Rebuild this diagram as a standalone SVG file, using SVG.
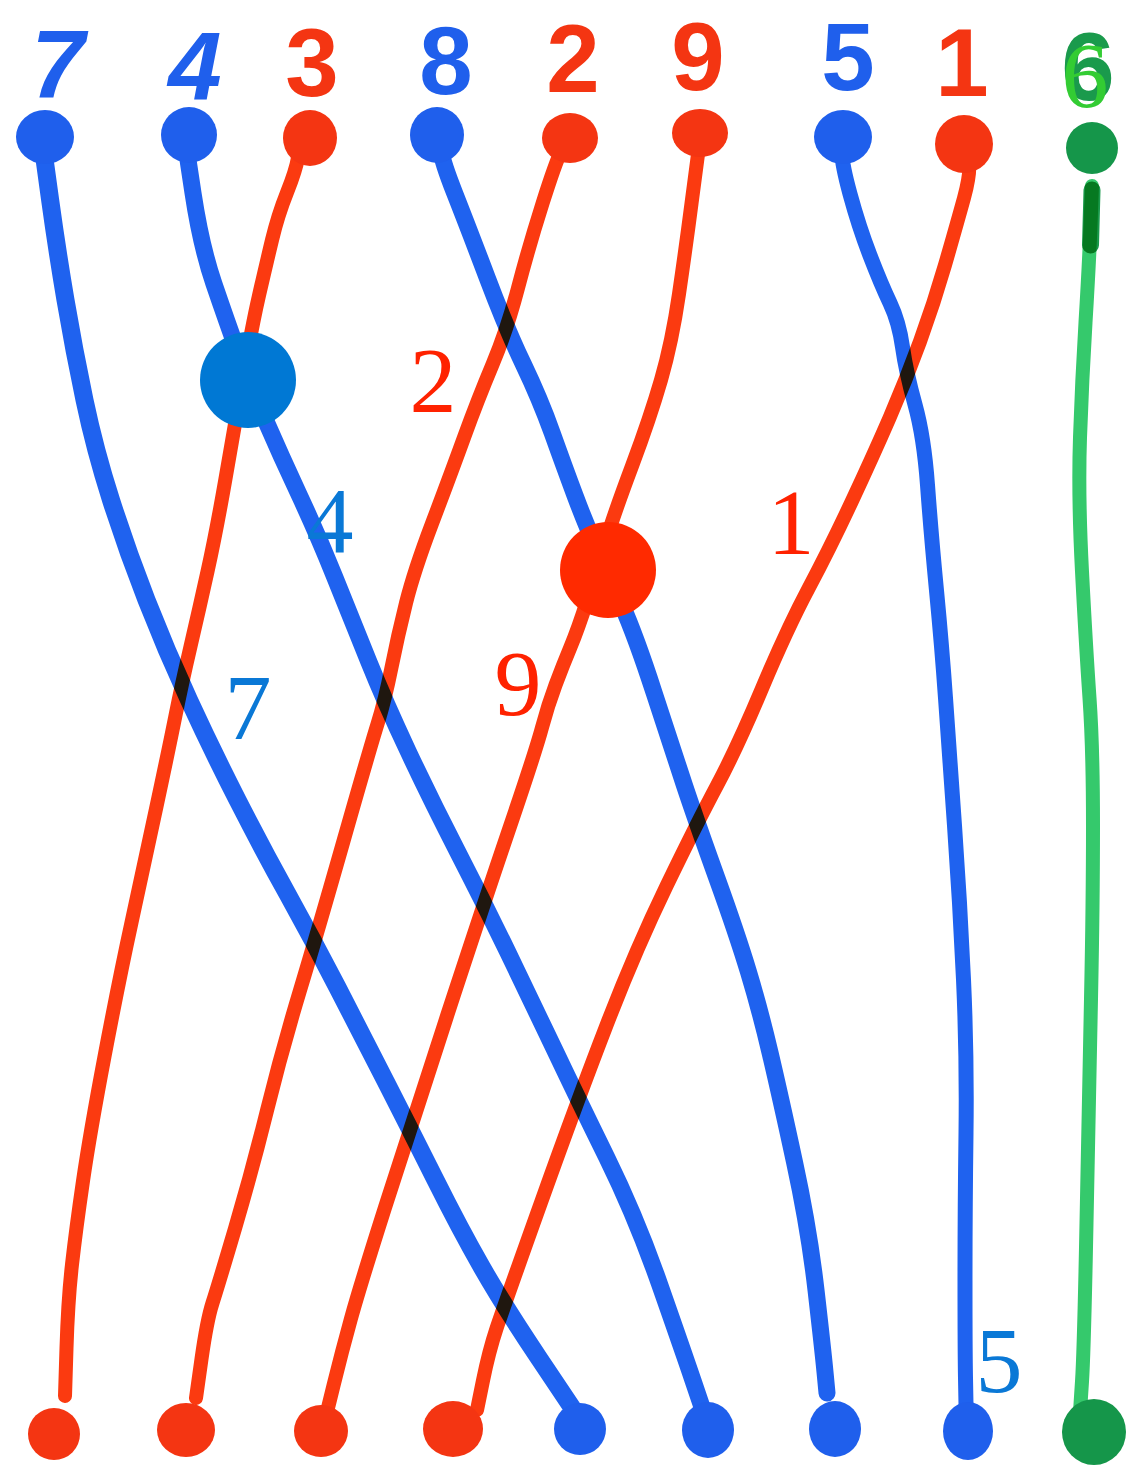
<svg xmlns="http://www.w3.org/2000/svg" width="1128" height="1470" viewBox="0 0 1128 1470">
<style>
.ln{fill:none;stroke-linecap:round;stroke-linejoin:round;mix-blend-mode:multiply}
.b{stroke:#1f62ef}
.r{stroke:#fb3a10}
.g{stroke:#35c96c}
.db{fill:#1f5fec}
.dr{fill:#f43512}
.dg{fill:#15964a}
.hd{font-family:"Liberation Sans","DejaVu Sans",sans-serif;font-weight:bold;font-size:96px;text-anchor:middle}
.lb{font-family:"Liberation Serif","DejaVu Serif",serif;font-size:94px;text-anchor:middle}
.tb{fill:#0a78d6}
.tr{fill:#ff2200}
</style>
<rect width="1128" height="1470" fill="#ffffff"/>
<g id="connectors">
<path class="ln b" stroke-width="18" d="M43,148 L50,199 Q57,250 65.5,300 Q74,350 84.5,400 Q95,450 111,500 Q127,550 146.5,600 Q166,650 189,700 Q212,750 237,799 Q262,848 287.5,894 Q313,940 337.5,987.5 Q362,1035 386,1082 Q410,1129 435,1179 Q460,1229 482,1267.5 Q504,1306 539.5,1359 L575,1412"/>
<path class="ln b" stroke-width="17" d="M185,140 L193,193 Q201,246 214,284 Q227,322 237.5,351 Q248,380 264.5,418 Q281,456 299,494.5 Q317,533 334.5,576.5 Q352,620 368.5,661 Q385,702 408,751 Q431,800 457.5,851.5 Q484,903 507.5,951.5 Q531,1000 554.5,1049.5 Q578,1099 607,1158 Q636,1217 659.5,1284 Q683,1351 693,1380.5 L703,1410"/>
<path class="ln r" stroke-width="14" d="M300,145 L298,157.5 Q296,170 287,192.5 Q278,215 272,240 Q266,265 259,295.5 Q252,326 243,378 Q234,430 225,481.5 Q216,533 207.5,571.5 Q199,610 190.5,646.5 Q182,683 175.5,715.5 Q169,748 156.5,806.5 Q144,865 131.5,922.5 Q119,980 104.5,1056.5 Q90,1133 83,1181 Q76,1229 72,1264.5 Q68,1300 66.5,1348 L65,1396"/>
<path class="ln b" stroke-width="17" d="M440,140 L441,150.5 Q442,161 455,194 Q468,227 487.5,278.5 Q507,330 523.5,364.5 Q540,399 552,432.5 Q564,466 575,495.5 Q586,525 596.5,548 Q607,571 621.5,604 Q636,637 654,692.5 Q672,748 684.5,785.5 Q697,823 717,878.5 Q737,934 748.5,972 Q760,1010 770,1052.5 Q780,1095 794.5,1162 Q809,1229 816,1290 Q823,1351 825,1372 L827,1393"/>
<path class="ln r" stroke-width="14" d="M567,140 L561.5,150.5 Q556,161 542.5,203.5 Q529,246 518,288 Q507,330 492.5,364.5 Q478,399 464,437.5 Q450,476 432,523.5 Q414,571 406,603 Q398,635 391.5,667.5 Q385,700 377.5,724 Q370,748 343.5,841 Q317,934 299.5,992 Q282,1050 267,1110.5 Q252,1171 235,1228.5 Q218,1286 212.5,1303 Q207,1320 201.5,1359 L196,1398"/>
<path class="ln r" stroke-width="14" d="M700,140 L698.5,150.5 Q697,161 691.5,203.5 Q686,246 679,294 Q672,342 661,380 Q650,418 632,466 Q614,514 605.5,542 Q597,570 587.5,599.5 Q578,629 570.5,647 Q563,665 555.5,685 Q548,705 542,727.5 Q536,750 510,826.5 Q484,903 447,1016 Q410,1129 385,1207.5 Q360,1286 351,1318.5 Q342,1351 333.5,1385.5 L325,1420"/>
<path class="ln b" stroke-width="15" d="M843,140 L842,150.5 Q841,161 850,194 Q859,227 870,255.5 Q881,284 890,303 Q899,322 902.5,347 Q906,372 915,404.5 Q924,437 927.5,485 Q931,533 936.5,590.5 Q942,648 945.5,698 Q949,748 954.5,825.5 Q960,903 963.5,979.5 Q967,1056 966,1133 Q965,1210 965,1280.5 Q965,1351 965.5,1378 L966,1405"/>
<path class="ln r" stroke-width="14" d="M964,144 L968,156.5 Q972,169 964,198 Q956,227 945,265 Q934,303 920,341.5 Q906,380 889.5,418 Q873,456 851.5,502 Q830,548 808.5,588.5 Q787,629 762,688.5 Q737,748 717,785.5 Q697,823 666.5,886 Q636,949 607,1024 Q578,1099 541,1202.5 Q504,1306 496.5,1328.5 Q489,1351 483,1380.5 L477,1410"/>
<path class="ln g" stroke-width="14" d="M1092,186 L1090.5,225.5 Q1089,265 1085.5,322.5 Q1082,380 1080,437.5 Q1078,495 1082,571.5 Q1086,648 1089.5,698 Q1093,748 1093,825.5 Q1093,903 1091,999 Q1089,1095 1086.5,1223 Q1084,1351 1082,1381.5 L1080,1412"/>
<path class="ln" stroke="#1a9a4c" stroke-width="17" d="M1092,190 L1090.5,245"/>
</g>
<g id="top-7"><text class="hd" x="58" y="98" fill="#1f5fec" font-style="italic">7</text><ellipse class="db" cx="45" cy="137" rx="29" ry="27"/></g>
<g id="top-4"><text class="hd" x="195" y="100" fill="#1f5fec" font-style="italic">4</text><ellipse class="db" cx="189" cy="135" rx="28" ry="28"/></g>
<g id="top-3"><text class="hd" x="312" y="96" fill="#f43512">3</text><ellipse class="dr" cx="310" cy="138" rx="27" ry="28"/></g>
<g id="top-8"><text class="hd" x="446" y="94" fill="#1f5fec">8</text><ellipse class="db" cx="437" cy="135" rx="27" ry="28"/></g>
<g id="top-2"><text class="hd" x="573" y="92" fill="#f43512">2</text><ellipse class="dr" cx="570" cy="138" rx="28" ry="25"/></g>
<g id="top-9"><text class="hd" x="698" y="90" fill="#f43512">9</text><ellipse class="dr" cx="700" cy="133" rx="28" ry="24"/></g>
<g id="top-5"><text class="hd" x="848" y="90" fill="#1f5fec">5</text><ellipse class="db" cx="843" cy="137" rx="29" ry="27"/></g>
<g id="top-1"><text class="hd" x="962" y="96" fill="#f43512">1</text><ellipse class="dr" cx="964" cy="144" rx="29" ry="29"/></g>
<g id="top-6"><text class="hd" x="1088" y="100" fill="#1a9a4c">6</text><text class="lb" x="1085" y="107" fill="#33cc33" font-size="98">6</text><ellipse class="dg" cx="1092" cy="148" rx="26" ry="26"/></g>
<g id="bottom-dots">
<ellipse class="dr" cx="54" cy="1434" rx="26" ry="26"/>
<ellipse class="dr" cx="186" cy="1430" rx="29" ry="27"/>
<ellipse class="dr" cx="321" cy="1431" rx="27" ry="26"/>
<ellipse class="dr" cx="453" cy="1429" rx="30" ry="28"/>
<ellipse class="db" cx="580" cy="1429" rx="26" ry="26"/>
<ellipse class="db" cx="708" cy="1430" rx="26" ry="28"/>
<ellipse class="db" cx="835" cy="1429" rx="26" ry="28"/>
<ellipse class="db" cx="968" cy="1431" rx="25" ry="29"/>
<ellipse class="dg" cx="1094" cy="1432" rx="32" ry="33"/>
</g>
<g id="overlay">
<circle cx="248" cy="380" r="48" fill="#0078d4"/>
<circle cx="608" cy="570" r="48" fill="#ff2a00"/>
<text class="lb tr" x="433" y="412">2</text>
<text class="lb tb" x="330" y="552">4</text>
<text class="lb tr" x="791" y="554">1</text>
<text class="lb tr" x="518" y="715">9</text>
<text class="lb tb" x="248" y="739">7</text>
<text class="lb tb" x="999" y="1392">5</text>
</g>
</svg>
